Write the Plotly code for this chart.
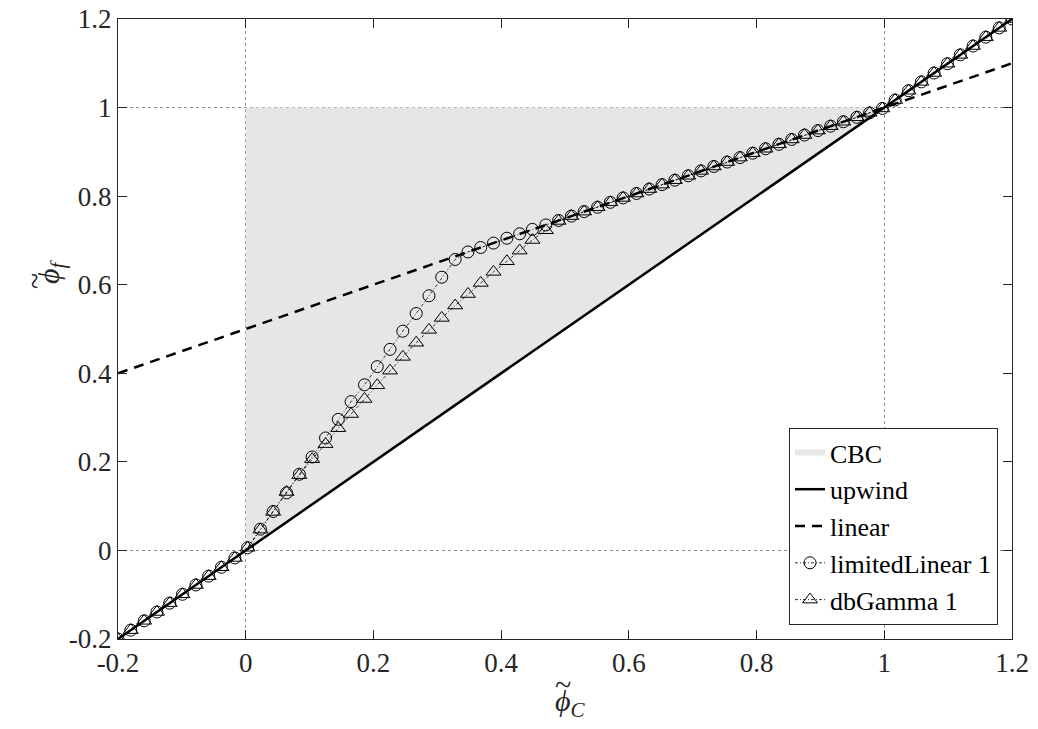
import plotly.graph_objects as go

# ---- data ----
phiC = [-0.200, -0.180, -0.159, -0.139, -0.119, -0.099, -0.078, -0.058, -0.038, -0.017,
        0.003, 0.023, 0.043, 0.064, 0.084, 0.104, 0.125, 0.145, 0.165, 0.186,
        0.206, 0.226, 0.246, 0.267, 0.287, 0.307, 0.328, 0.348, 0.368, 0.388,
        0.409, 0.429, 0.449, 0.470, 0.490, 0.510, 0.530, 0.551, 0.571, 0.591,
        0.612, 0.632, 0.652, 0.672, 0.693, 0.713, 0.733, 0.754, 0.774, 0.794,
        0.814, 0.835, 0.855, 0.875, 0.896, 0.916, 0.936, 0.957, 0.977, 0.997,
        1.017, 1.038, 1.058, 1.078, 1.099, 1.119, 1.139, 1.159, 1.180, 1.200]

limited_linear = [-0.200, -0.180, -0.159, -0.139, -0.119, -0.099, -0.078, -0.058, -0.038, -0.017,
                  0.006, 0.048, 0.088, 0.130, 0.172, 0.211, 0.254, 0.296, 0.336, 0.374,
                  0.415, 0.454, 0.495, 0.535, 0.575, 0.617, 0.657, 0.674, 0.684, 0.694,
                  0.705, 0.715, 0.725, 0.735, 0.745, 0.755, 0.765, 0.775, 0.786, 0.796,
                  0.806, 0.816, 0.826, 0.836, 0.846, 0.857, 0.867, 0.877, 0.887, 0.897,
                  0.907, 0.917, 0.928, 0.938, 0.948, 0.958, 0.968, 0.978, 0.988, 0.998,
                  1.017, 1.038, 1.058, 1.078, 1.099, 1.119, 1.139, 1.159, 1.180, 1.200]

db_gamma = [-0.200, -0.180, -0.159, -0.139, -0.119, -0.099, -0.078, -0.058, -0.038, -0.017,
            0.006, 0.047, 0.087, 0.132, 0.170, 0.206, 0.240, 0.276, 0.308, 0.342,
            0.373, 0.406, 0.437, 0.469, 0.498, 0.525, 0.553, 0.579, 0.604, 0.629,
            0.653, 0.677, 0.701, 0.723, 0.744, 0.755, 0.765, 0.775, 0.786, 0.796,
            0.806, 0.816, 0.826, 0.836, 0.846, 0.857, 0.867, 0.877, 0.887, 0.897,
            0.907, 0.917, 0.928, 0.938, 0.948, 0.958, 0.968, 0.978, 0.988, 0.998,
            1.017, 1.038, 1.058, 1.078, 1.099, 1.119, 1.139, 1.159, 1.180, 1.200]

upwind_x = [-0.2, 1.2]
upwind_y = [-0.2, 1.2]
linear_x = [-0.2, 1.2]
linear_y = [0.4, 1.1]
cbc_x = [0, 0, 1, 0]
cbc_y = [0, 1, 1, 0]

tick_vals = [-0.2, 0, 0.2, 0.4, 0.6, 0.8, 1, 1.2]
tick_text = ["-0.2", "0", "0.2", "0.4", "0.6", "0.8", "1", "1.2"]
grid_vals = [0, 1]

FONT = "Liberation Serif"
INK = "#262626"

fig = go.Figure()
fig.add_trace(go.Scatter(x=cbc_x, y=cbc_y, mode="none", fill="toself",
                         fillcolor="#e6e6e6", name="CBC"))
fig.add_trace(go.Scatter(x=upwind_x, y=upwind_y, mode="lines", name="upwind",
                         line=dict(color="black", width=2.5)))
fig.add_trace(go.Scatter(x=linear_x, y=linear_y, mode="lines", name="linear",
                         line=dict(color="black", width=2.5, dash="10px,7px")))
fig.add_trace(go.Scatter(x=phiC, y=limited_linear, mode="lines+markers", name="limitedLinear 1",
                         line=dict(color="black", width=0.8, dash="3px,2px,1px,2px"),
                         marker=dict(symbol="circle-open", size=12, color="black",
                                     line=dict(width=1, color="black"))))
fig.add_trace(go.Scatter(x=phiC, y=db_gamma, mode="lines+markers", name="dbGamma 1",
                         line=dict(color="black", width=0.8, dash="3px,2px,1px,2px"),
                         marker=dict(symbol="triangle-up-open", size=13, color="black",
                                     line=dict(width=1, color="black"))))

axis_common = dict(
    range=[-0.2, 1.2], tickmode="array", tickvals=tick_vals, ticktext=tick_text,
    showgrid=False, zeroline=False, showline=True, linecolor=INK, linewidth=1,
    mirror="ticks", ticks="inside", ticklen=9, tickcolor=INK, automargin=False,
    ticklabeloverflow="allow",
    tickfont=dict(family=FONT, size=27, color=INK),
    minor=dict(tickmode="array", tickvals=grid_vals, showgrid=True, griddash="dot",
               gridcolor="#8c8c8c", gridwidth=1, ticks=""),
)

W, H = 1038, 729
# desired plot-area edges on screen (page body margin removed below)
SX0, SX1, SY0, SY1 = 118, 1012, 19, 639
L, T = SX0, SY0
pw, ph = SX1 - SX0, SY1 - SY0
R = W - L - pw
B = H - T - ph


def px_to_paper(sx, sy):
    return (sx - SX0) / pw, (SY1 - sy) / ph


title_font = dict(family=FONT, size=30, color=INK)
title_parts = [
    ("~", 563, 684, 0),
    ("<i>ϕ</i><sub><i>C</i></sub>", 570, 703, 0),
    ("~", 34, 281, -90),
    ("<i>ϕ</i><sub><i>f</i></sub>", 51, 272, -90),
]
annotations = []
for text, sx, sy, ang in title_parts:
    ax, ay = px_to_paper(sx, sy)
    annotations.append(dict(text=text, x=ax, y=ay, xref="paper", yref="paper",
                            showarrow=False, xanchor="center", yanchor="middle",
                            textangle=ang, font=title_font))

fig.update_layout(
    width=W, height=H,
    margin=dict(l=L, r=R, t=T, b=B, autoexpand=False),
    paper_bgcolor="white", plot_bgcolor="white",
    font=dict(family=FONT, size=27, color=INK),
    xaxis=axis_common,
    yaxis=axis_common,
    annotations=annotations,
    legend=dict(x=(998 - SX0) / pw, xanchor="right", y=(SY1 - 625) / ph, yanchor="bottom",
                bgcolor="white", bordercolor=INK, borderwidth=1,
                font=dict(family=FONT, size=26, color="black"),
                tracegroupgap=0, itemwidth=30),
    showlegend=True,
)

fig.write_html("out.html", config={"displayModeBar": False},
               post_script="document.body.style.margin='0';")
